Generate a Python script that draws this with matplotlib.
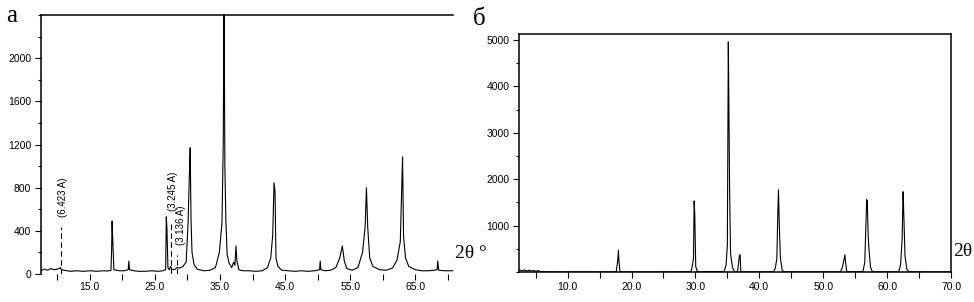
import matplotlib
matplotlib.use("Agg")
import matplotlib.pyplot as plt
from matplotlib.ticker import MultipleLocator, FixedLocator, NullFormatter

plt.rcParams['font.family'] = ['Liberation Sans', 'DejaVu Sans']

# panel a: 2theta (deg) and intensity
a_tth = [7.5, 8.0, 8.5, 9.0, 9.5, 10.0, 10.4, 10.5, 10.6, 11.0, 11.5, 12.0, 13.0, 14.0, 15.0, 16.0, 17.0, 17.8,
         18.25, 18.35, 18.42, 18.5, 18.7, 19.5, 20.3, 20.9, 21.0, 21.1, 21.8, 22.5, 23.5, 24.5, 25.5, 26.2,
         26.65, 26.75, 26.85, 27.0, 27.2, 27.4, 27.6, 28.0, 28.4, 28.8, 29.3, 29.8, 30.1, 30.3, 30.42, 30.55,
         30.7, 31.0, 31.5, 32.5, 33.5, 34.3, 34.9, 35.3, 35.5, 35.62, 35.75, 35.9, 36.1, 36.4, 36.8, 37.1,
         37.3, 37.45, 37.6, 37.9, 38.5, 39.5, 40.5, 41.5, 42.3, 42.8, 43.1, 43.3, 43.45, 43.6, 43.9, 44.5,
         45.5, 46.5, 47.5, 48.5, 49.5, 50.3, 50.4, 50.5, 51.2, 52.0, 52.8, 53.4, 53.8, 54.1, 54.5, 55.3,
         56.2, 56.9, 57.3, 57.5, 57.7, 58.0, 58.5, 59.5, 60.5, 61.5, 62.2, 62.7, 62.95, 63.05, 63.2, 63.5,
         64.0, 65.0, 66.0, 67.0, 68.0, 68.35, 68.45, 68.6, 69.5, 70.8]
a_int = [30, 45, 35, 50, 40, 45, 55, 60, 40, 35, 30, 25, 30, 25, 30, 25, 30, 28,
         35, 230, 490, 350, 40, 30, 30, 40, 120, 40, 30, 25, 25, 30, 25, 30,
         40, 530, 420, 60, 40, 70, 45, 40, 60, 55, 70, 110, 480, 930, 1170, 500,
         200, 90, 45, 30, 35, 60, 200, 470, 1200, 2600, 1000, 500, 180, 100, 60, 110,
         80, 260, 120, 40, 30, 30, 25, 30, 60, 150, 360, 845, 770, 150, 70, 35,
         30, 25, 30, 25, 30, 40, 120, 40, 30, 35, 60, 150, 260, 120, 50, 35,
         60, 200, 440, 800, 430, 150, 70, 40, 35, 55, 130, 300, 860, 1085, 350, 150,
         70, 40, 30, 30, 35, 40, 120, 35, 30, 30]

# dashed d-spacing markers in panel a
mark_tth = [10.5, 27.4, 28.4]
mark_top = [440, 480, 175]
mark_lbl = ["(6.423 A)", "(3.245 A)", "(3.136 A)"]
mark_lbl_x = [10.85, 27.8, 29.0]
mark_lbl_y = [713, 768, 454]

# panel b
b_tth = [2.5, 3.0, 3.3, 3.6, 4.0, 4.3, 4.7, 5.0, 5.4, 5.8, 6.5, 8.0, 10.0, 14.0,
         17.6, 17.85, 17.95, 18.05, 18.2, 22.0, 27.0,
         29.3, 29.55, 29.7, 29.8, 29.9, 30.05, 30.3,
         34.5, 34.8, 35.0, 35.15, 35.25, 35.35, 35.5, 35.8, 36.1,
         36.6, 36.8, 36.9, 37.0, 37.1,
         42.2, 42.5, 42.75, 42.9, 43.0, 43.1, 43.3, 43.6, 43.9,
         52.7, 53.0, 53.4, 53.5, 53.7,
         56.2, 56.5, 56.8, 56.9, 57.0, 57.1, 57.4, 57.7,
         61.8, 62.1, 62.35, 62.5, 62.6, 62.8, 63.1, 63.4, 70.0]
b_int = [40, 30, 45, 20, 40, 20, 35, 15, 30, 10, 5, 5, 3, 3,
         5, 250, 470, 200, 5, 3, 5,
         10, 150, 300, 1530, 1250, 120, 10,
         10, 150, 580, 4960, 3400, 1800, 400, 100, 10,
         5, 250, 370, 370, 5,
         5, 80, 300, 1300, 1770, 1150, 300, 30, 5,
         5, 100, 370, 200, 5,
         10, 200, 1560, 1540, 950, 600, 100, 5,
         5, 150, 700, 1730, 1300, 350, 50, 5, 3]

a_xticks = [15, 25, 35, 45, 55, 65]
a_xlabels = ["15.0", "25.0", "35.0", "45.0", "55.0", "65.0"]
a_yticks = [0, 400, 800, 1200, 1600, 2000]
b_xticks = [10, 20, 30, 40, 50, 60, 70]
b_xlabels = ["10.0", "20.0", "30.0", "40.0", "50.0", "60.0", "70.0"]
b_yticks = [1000, 2000, 3000, 4000, 5000]

fig = plt.figure(figsize=(9.74, 3.02), dpi=100)

# ---- panel a
ax1 = fig.add_axes([0.0421, 0.0927, 0.4230, 0.8576])
ax1.plot(a_tth, a_int, color="black", lw=0.8)
ax1.vlines(mark_tth, 0, mark_top, colors="black", lw=0.8, linestyles=(0, (5, 3)))
for x, y, s in zip(mark_lbl_x, mark_lbl_y, mark_lbl):
    ax1.text(x, y, s, rotation=90, ha="center", va="center", fontsize=7)
ax1.set_xlim(7.5, 70.8)
ax1.set_ylim(0, 2400)
ax1.spines["right"].set_visible(False)
ax1.spines["bottom"].set_visible(False)
for s in ("left", "top"):
    ax1.spines[s].set_linewidth(1.1)
ax1.xaxis.set_major_locator(FixedLocator(a_xticks))
ax1.set_xticklabels(a_xlabels)
ax1.xaxis.set_minor_locator(FixedLocator([10, 20, 30, 40, 50, 60, 70]))
ax1.set_yticks(a_yticks)
ax1.yaxis.set_minor_locator(MultipleLocator(200))
ax1.tick_params(axis="x", which="both", length=4, width=0.8, labelsize=7.5, pad=2, top=False)
ax1.tick_params(axis="y", which="major", length=4, width=0.8, labelsize=7.5, pad=3)
ax1.tick_params(axis="y", which="minor", length=2, width=0.8)
ax1.yaxis.set_minor_formatter(NullFormatter())

fig.text(12 / 974, 1 - 16 / 302, "а", family="Liberation Serif", fontsize=18, ha="center", va="center")
fig.text(455 / 974, 1 - 253 / 302, "2θ °", family="Liberation Serif", fontsize=14, ha="left", va="center")

# ---- panel b
ax2 = fig.add_axes([0.5329, 0.0993, 0.4435, 0.7881])
ax2.plot(b_tth, b_int, color="black", lw=0.8)
ax2.set_xlim(2.4, 70)
ax2.set_ylim(0, 5130)
for s in ax2.spines.values():
    s.set_linewidth(1.1)
ax2.set_xticks(b_xticks)
ax2.set_xticklabels(b_xlabels)
ax2.xaxis.set_minor_locator(MultipleLocator(5))
ax2.set_yticks(b_yticks)
ax2.yaxis.set_minor_locator(MultipleLocator(500))
ax2.tick_params(axis="both", which="major", length=4, width=0.8, labelsize=7.5, pad=3)
ax2.tick_params(axis="x", which="minor", length=4, width=0.8)
ax2.tick_params(axis="y", which="minor", length=2, width=0.8)

fig.text(479 / 974, 1 - 19 / 302, "б", family="Liberation Serif", fontsize=18, ha="center", va="center")
fig.text(953 / 974, 1 - 251 / 302, "2θ", family="Liberation Serif", fontsize=14, ha="left", va="center")

fig.savefig("out.png", dpi=100)
